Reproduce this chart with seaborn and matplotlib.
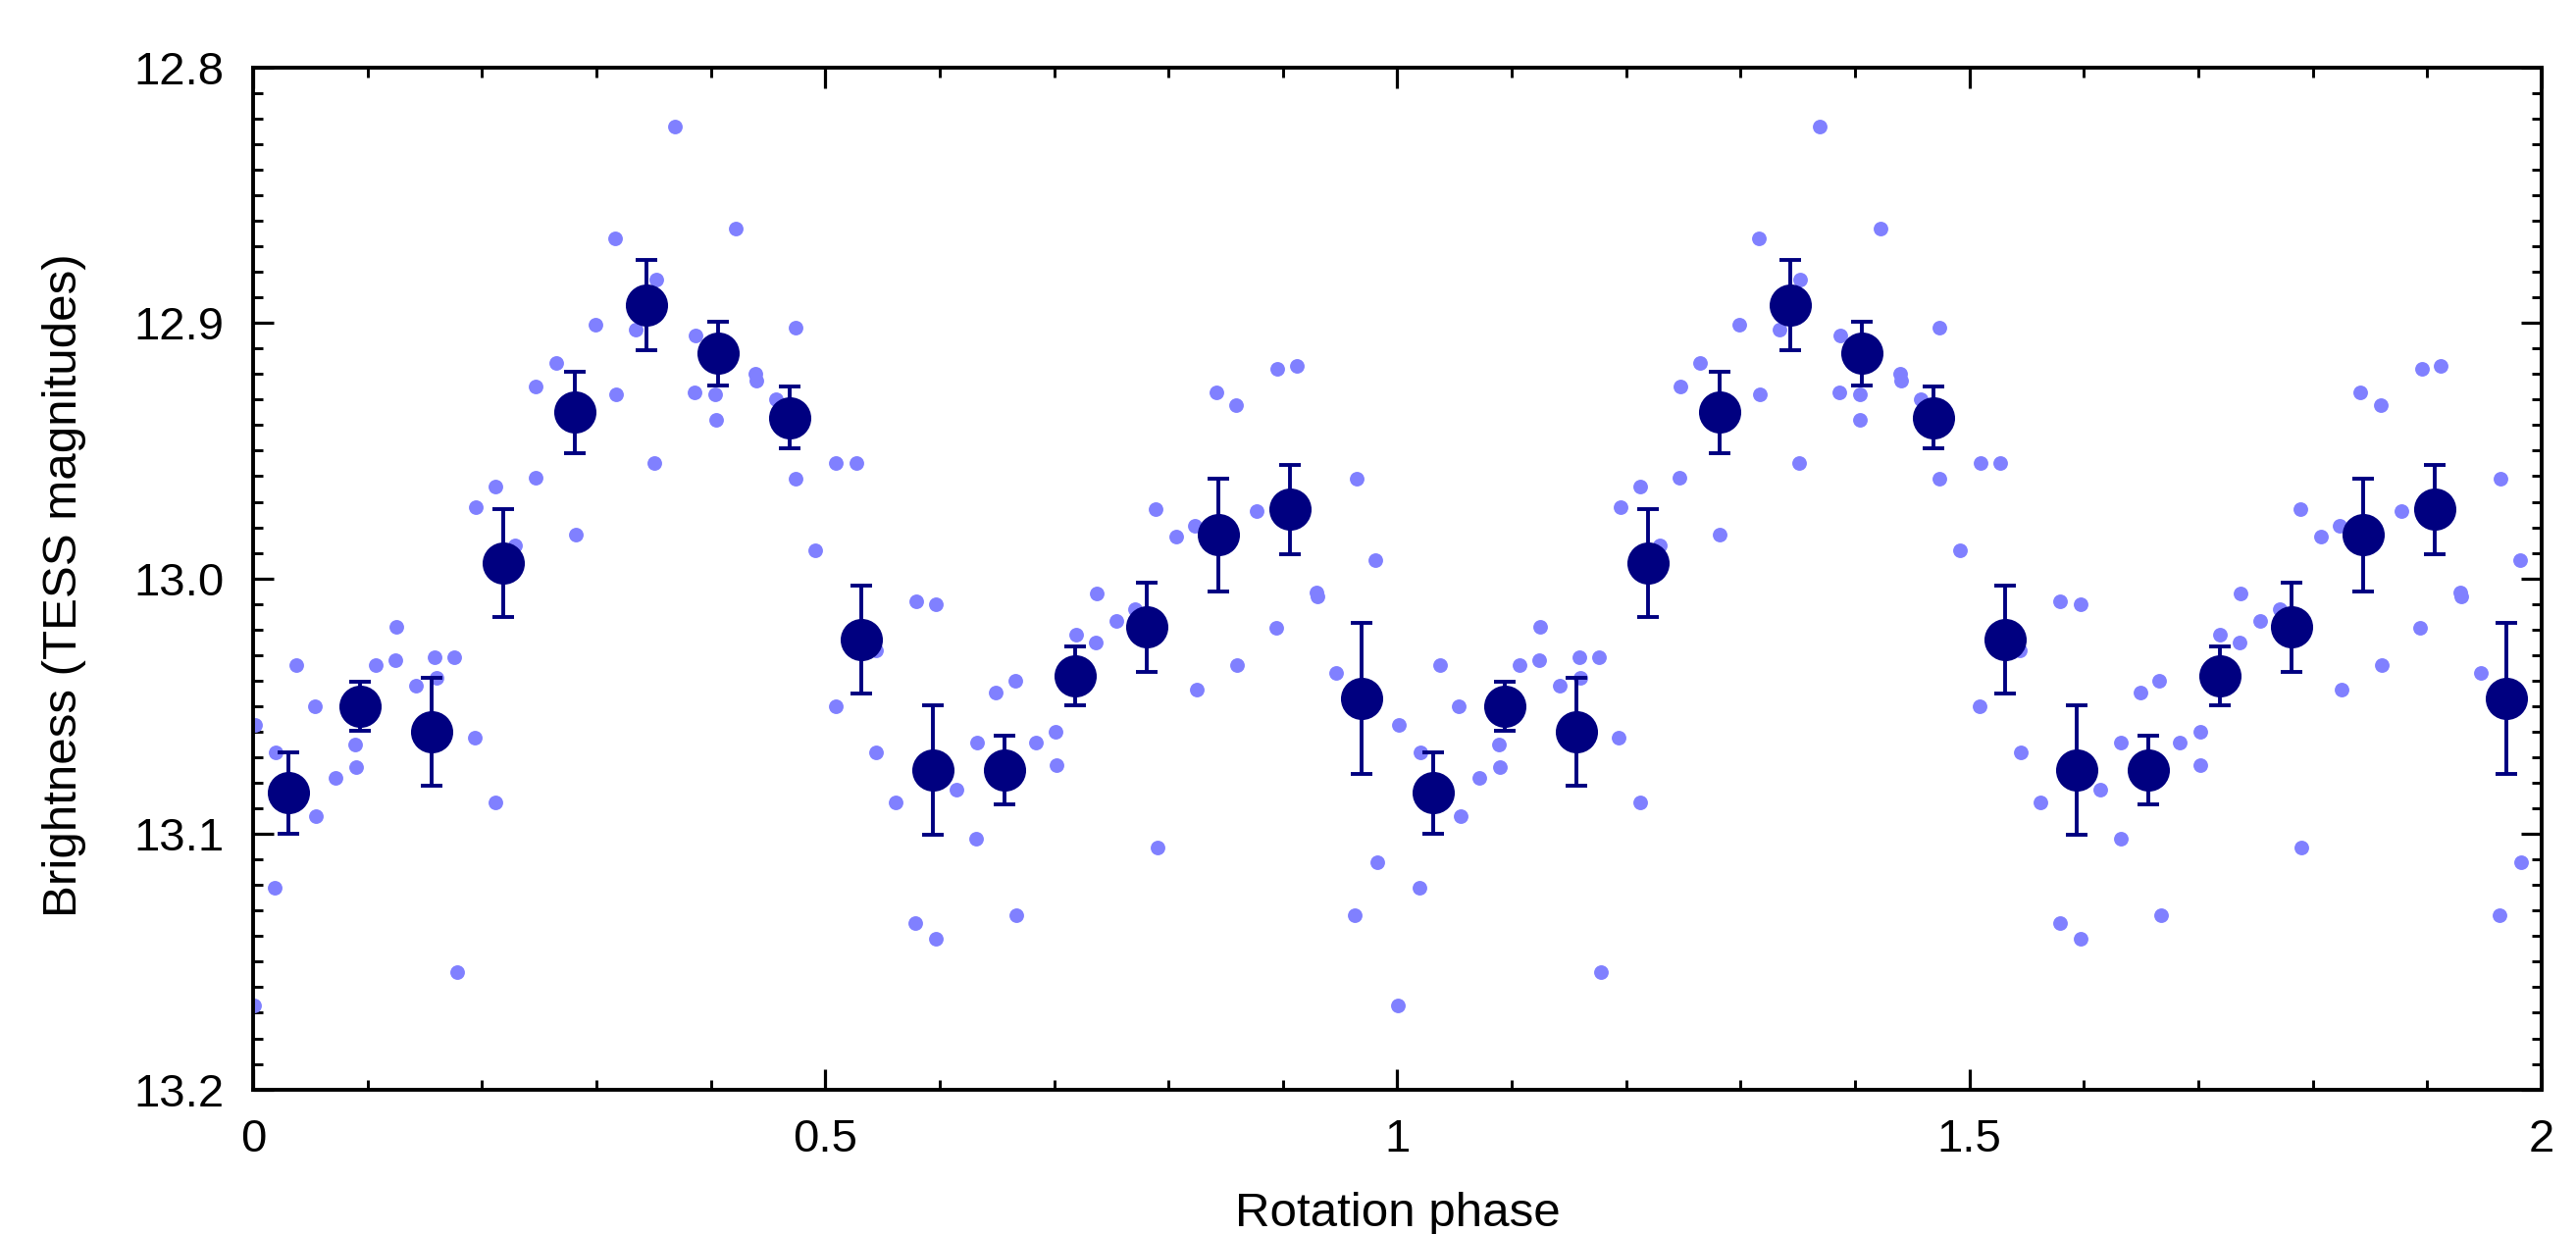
import numpy as np
import pandas as pd
import matplotlib
matplotlib.use("Agg")
import matplotlib.pyplot as plt
import seaborn as sns
from matplotlib.ticker import MultipleLocator, FormatStrFormatter, FuncFormatter

# ---- individual TESS measurements (phase in [0,1)) ----
raw_phase = [0.0015, 0.0008, 0.0198, 0.019, 0.0374, 0.054, 0.055, 0.072, 0.089, 0.090,
             0.107, 0.124, 0.125, 0.142, 0.159, 0.160, 0.176, 0.178, 0.1935, 0.195,
             0.212, 0.212, 0.229, 0.2466, 0.2473, 0.2645, 0.282, 0.299, 0.316, 0.317,
             0.334, 0.352, 0.351, 0.369, 0.386, 0.387, 0.404, 0.4046, 0.422, 0.439,
             0.440, 0.457, 0.474, 0.474, 0.4916, 0.5095, 0.527, 0.509, 0.544, 0.5447,
             0.5616, 0.5795, 0.5787, 0.5967, 0.597, 0.6146, 0.632, 0.6326, 0.649, 0.666,
             0.667, 0.684, 0.7013, 0.702, 0.719, 0.736, 0.737, 0.754, 0.771, 0.789,
             0.790, 0.807, 0.823, 0.825, 0.8417, 0.859, 0.860, 0.877, 0.894, 0.895,
             0.912, 0.929, 0.930, 0.9465, 0.964, 0.963, 0.981, 0.982]
raw_mag = [13.0575, 13.167, 13.068, 13.121, 13.034, 13.050, 13.093, 13.078, 13.065, 13.074,
           13.034, 13.032, 13.019, 13.042, 13.031, 13.039, 13.031, 13.154, 13.0625, 12.972,
           12.964, 13.0876, 12.987, 12.9605, 12.925, 12.9157, 12.983, 12.9006, 12.867, 12.928,
           12.9025, 12.883, 12.955, 12.823, 12.927, 12.905, 12.928, 12.938, 12.863, 12.920,
           12.9225, 12.9297, 12.9017, 12.961, 12.989, 12.955, 12.955, 13.050, 13.028, 13.068,
           13.0878, 13.009, 13.135, 13.010, 13.141, 13.0825, 13.102, 13.0643, 13.0445, 13.040,
           13.1317, 13.0643, 13.060, 13.073, 13.022, 13.025, 13.006, 13.0165, 13.012, 12.9727,
           13.1055, 12.9835, 12.9795, 13.0437, 12.927, 12.932, 13.034, 12.9735, 13.0194, 12.918,
           12.9167, 13.0057, 13.007, 13.037, 12.961, 13.132, 12.993, 13.111]

# ---- binned means with errors (16 bins) ----
bin_phase = [0.03125, 0.09375, 0.15625, 0.21875, 0.28125, 0.34375, 0.40625, 0.46875,
             0.53125, 0.59375, 0.65625, 0.71875, 0.78125, 0.84375, 0.90625, 0.96875]
bin_mag = [13.084, 13.050, 13.060, 12.994, 12.935, 12.893, 12.912, 12.937,
           13.024, 13.075, 13.075, 13.038, 13.019, 12.983, 12.973, 13.047]
bin_err = [0.016, 0.0095, 0.021, 0.021, 0.016, 0.0175, 0.0125, 0.012,
           0.021, 0.0255, 0.0135, 0.0115, 0.0175, 0.022, 0.0175, 0.0295]

x_label = "Rotation phase"
y_label = "Brightness (TESS magnitudes)"

# two cycles are shown
raw = pd.DataFrame({"phase": np.concatenate([raw_phase, np.array(raw_phase) + 1]),
                    "mag": np.concatenate([raw_mag, raw_mag])})
binned = pd.DataFrame({"phase": np.concatenate([bin_phase, np.array(bin_phase) + 1]),
                       "mag": np.concatenate([bin_mag, bin_mag]),
                       "err": np.concatenate([bin_err, bin_err])})

sns.set_theme(style="ticks")
plt.rcParams["font.family"] = ["Liberation Sans", "DejaVu Sans"]

fig = plt.figure(figsize=(26.26, 12.58), dpi=100)
ax = fig.add_axes([0.09825, 0.11717, 0.88842, 0.82822])

light = "#8080ff"
navy = "#000080"

sns.scatterplot(data=raw, x="phase", y="mag", ax=ax, color=light, s=115,
                linewidth=0, zorder=2, legend=False)
ax.errorbar(binned["phase"], binned["mag"], yerr=binned["err"], fmt="none",
            ecolor=navy, elinewidth=2.8, capsize=8, capthick=2.8, zorder=3)
sns.scatterplot(data=binned, x="phase", y="mag", ax=ax, color=navy, s=31 ** 2,
                linewidth=0, zorder=4, legend=False)

ax.set_xlim(0, 2)
ax.set_ylim(13.2, 12.8)

ax.xaxis.set_major_locator(MultipleLocator(0.5))
ax.xaxis.set_minor_locator(MultipleLocator(0.1))
ax.yaxis.set_major_locator(MultipleLocator(0.1))
ax.yaxis.set_minor_locator(MultipleLocator(0.01))
ax.xaxis.set_major_formatter(FuncFormatter(lambda v, p: f"{v:g}"))
ax.yaxis.set_major_formatter(FormatStrFormatter("%.1f"))

ax.tick_params(which="both", direction="in", top=True, right=True,
               colors="black", labelsize=34)
ax.tick_params(which="major", length=15, width=2.3)
ax.tick_params(which="minor", length=7.2, width=2.1)
ax.tick_params(axis="y", which="major", pad=21)
ax.tick_params(axis="x", which="major", pad=21)

for sp in ax.spines.values():
    sp.set_visible(True)
    sp.set_linewidth(2.8)
    sp.set_color("black")

ax.set_xlabel(x_label, fontsize=35.5, color="black")
ax.set_ylabel(y_label, fontsize=35.5, color="black")
ax.xaxis.set_label_coords(0.5002, -0.100)
ax.yaxis.set_label_coords(-0.073, 0.493)
ax.grid(False)
ax.set_facecolor("white")
fig.patch.set_facecolor("white")

fig.savefig("out.png", dpi=100)
